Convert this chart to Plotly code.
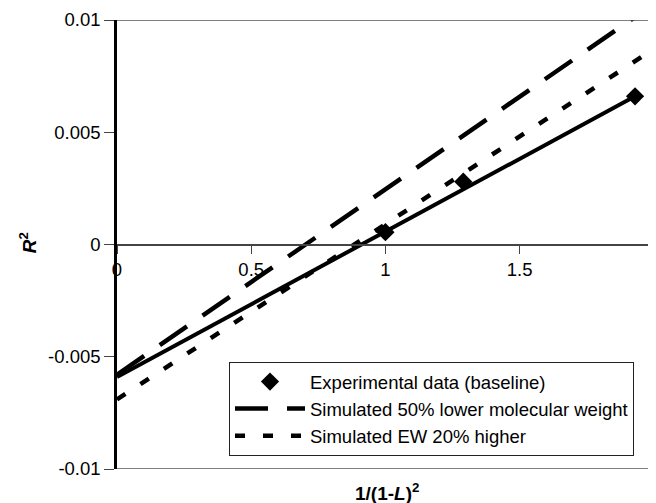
import plotly.graph_objects as go

# Data
exp_x = [1.0, 1.29, 1.93]
exp_y = [0.00055, 0.0028, 0.0066]

trend_x = [0.0, 1.93]
trend_y = [-0.0059, 0.0066]

mw_x = [0.0, 1.95]
mw_y = [-0.0058, 0.0103]

ew_x = [0.0, 1.96]
ew_y = [-0.0069, 0.0084]

x_ticks = [0, 0.5, 1, 1.5, 2]
x_ticktext = ["0", "0.5", "1", "1.5", "2"]
y_ticks = [-0.01, -0.005, 0, 0.005, 0.01]
y_ticktext = ["-0.01", "-0.005", "0", "0.005", "0.01"]

FONT = "Liberation Sans, Arial, sans-serif"

fig = go.Figure()

fig.add_trace(go.Scatter(
    x=trend_x, y=trend_y, mode="lines",
    line=dict(color="black", width=4),
    showlegend=False, hoverinfo="skip",
))
fig.add_trace(go.Scatter(
    x=mw_x, y=mw_y, mode="lines",
    name="Simulated 50% lower molecular weight",
    line=dict(color="black", width=4.5, dash="33px,19px"),
    legendrank=2,
))
fig.add_trace(go.Scatter(
    x=ew_x, y=ew_y, mode="lines",
    name="Simulated EW 20% higher",
    line=dict(color="black", width=4.5, dash="10px,18px"),
    legendrank=3,
))
fig.add_trace(go.Scatter(
    x=exp_x, y=exp_y, mode="markers",
    name="Experimental data (baseline)",
    marker=dict(symbol="diamond", size=14, color="black"),
    legendrank=1,
))

# page body has an 8px default margin; figure is sized to fill the rest
fig.update_layout(
    width=648, height=495,
    margin=dict(l=109, r=0, t=12, b=34, autoexpand=False),
    paper_bgcolor="white", plot_bgcolor="white",
    font=dict(family=FONT, size=18.5, color="black"),
    xaxis=dict(
        range=[0, 2.008], anchor="free", position=0.5,
        tickvals=x_ticks, ticktext=x_ticktext,
        showline=True, linecolor="#444", linewidth=1.5,
        ticks="outside", ticklen=9, tickcolor="#444", tickwidth=1,
        showgrid=False, zeroline=False, automargin=False,
        tickfont=dict(size=18.5), ticklabeloverflow="allow",
    ),
    yaxis=dict(
        range=[-0.01, 0.01],
        tickvals=y_ticks, ticktext=y_ticktext,
        showline=True, linecolor="black", linewidth=2.5,
        ticks="outside", ticklen=10, tickcolor="#444", tickwidth=1,
        showgrid=False, zeroline=False, automargin=False,
        tickfont=dict(size=18.5),
    ),
    legend=dict(
        x=(229 - 117) / 539, y=(469 - 362) / 449, xanchor="left", yanchor="top",
        bordercolor="#222", borderwidth=1, bgcolor="white",
        font=dict(size=18.5), itemwidth=70, tracegroupgap=0,
    ),
    shapes=[
        dict(type="line", xref="paper", yref="y", x0=0, x1=1, y0=0.01, y1=0.01,
             line=dict(color="#555", width=1.5)),
        dict(type="line", xref="paper", yref="y", x0=0, x1=1, y0=-0.01, y1=-0.01,
             line=dict(color="#555", width=1.5)),
    ],
    annotations=[
        dict(text="<b><i>R</i><sup>2</sup></b>", xref="paper", yref="paper",
             x=(28 - 117) / 539, y=0.503, xanchor="center", yanchor="middle",
             textangle=-90, showarrow=False, font=dict(size=19)),
        dict(text="<b>1/(1-<i>L</i>)<sup>2</sup></b>", xref="paper", yref="paper",
             x=(387 - 117) / 539, y=(469 - 492) / 449, xanchor="center", yanchor="middle",
             showarrow=False, font=dict(size=19)),
    ],
)

fig.write_html("out.html")
